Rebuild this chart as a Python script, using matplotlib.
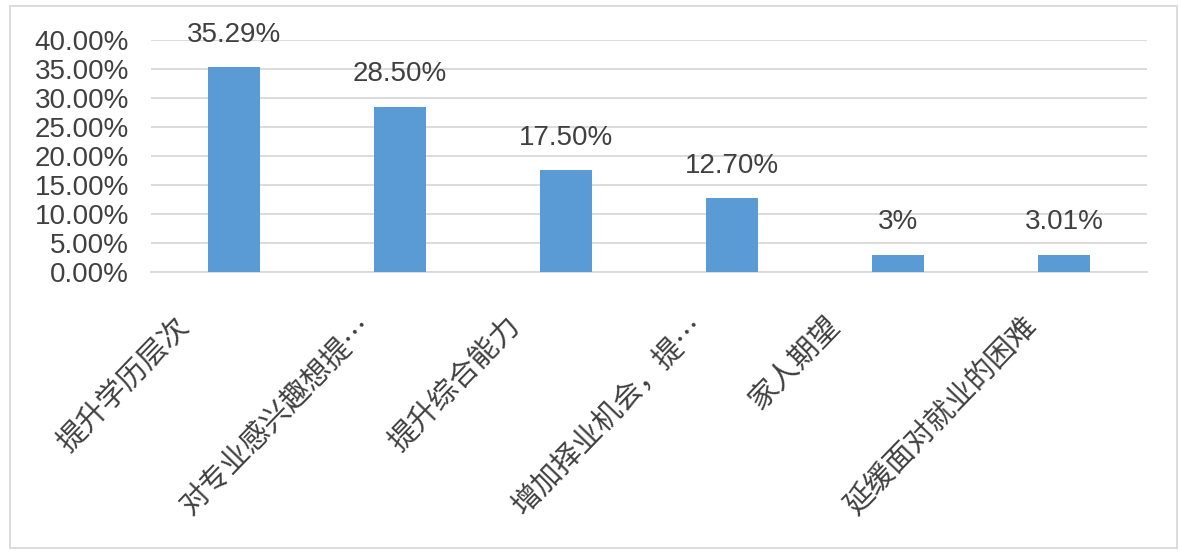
import matplotlib
matplotlib.use("Agg")
import matplotlib.pyplot as plt
from matplotlib import font_manager
from matplotlib.patches import Rectangle
from matplotlib.ticker import FuncFormatter
import matplotlib.transforms as mtransforms

categories = ["提升学历层次", "对专业感兴趣想提…", "提升综合能力",
              "增加择业机会，提…", "家人期望", "延缓面对就业的困难"]
values = [35.29, 28.50, 17.50, 12.70, 3.00, 3.01]
value_labels = ["35.29%", "28.50%", "17.50%", "12.70%", "3%", "3.01%"]
y_ticks = [0, 5, 10, 15, 20, 25, 30, 35, 40]

TEXT = "#404040"
GRID = "#D9D9D9"
BAR = "#5B9BD5"

try:
    font_manager.findfont("Liberation Sans Narrow", fallback_to_default=False)
    num_family = ["Liberation Sans Narrow", "DejaVu Sans"]
    num_size = 24
except Exception:
    num_family = ["Liberation Sans", "DejaVu Sans"]
    num_size = 20

cjk_family = ["Noto Sans CJK SC", "DejaVu Sans"]

W, H = 1179, 553
fig = plt.figure(figsize=(W / 100, H / 100), dpi=100)
fig.patch.set_facecolor("white")

# outer chart border
fig.add_artist(Rectangle((10 / W, 1 - 548 / H), (1177 - 10) / W, (548 - 6) / H,
                         transform=fig.transFigure, fill=False,
                         edgecolor=GRID, linewidth=1.3))

ax = fig.add_axes([151 / W, 1 - 272 / H, 996 / W, 232 / H])
x = list(range(len(categories)))
ax.bar(x, values, width=0.31, color=BAR, zorder=3)
ax.set_xlim(-0.5, len(categories) - 0.5)
ax.set_ylim(0, 40)
ax.set_yticks(y_ticks)
ax.yaxis.set_major_formatter(FuncFormatter(lambda v, p: f"{v:.2f}%"))
ax.grid(axis="y", color=GRID, linewidth=1.3, zorder=0)
ax.set_axisbelow(True)
for s in ["top", "right", "left"]:
    ax.spines[s].set_visible(False)
ax.spines["bottom"].set_color(GRID)
ax.spines["bottom"].set_linewidth(1.3)
ax.tick_params(axis="y", length=0, pad=16, labelcolor=TEXT)
ax.tick_params(axis="x", length=0)
for lab in ax.get_yticklabels():
    lab.set_fontfamily(num_family)
    lab.set_fontsize(num_size)
ax.set_xticks(x)
ax.set_xticklabels([])

# data labels
for xi, v, t in zip(x, values, value_labels):
    ax.annotate(t, (xi, v), xytext=(0, 14), textcoords="offset points",
                ha="center", va="bottom", color=TEXT,
                fontfamily=num_family, fontsize=num_size, annotation_clip=False)

# rotated category labels
for xi, c in zip(x, categories):
    dx = -36 + (-50 + 6 * len(c))
    off = mtransforms.offset_copy(ax.get_xaxis_transform(), fig=fig,
                                  x=dx, y=-50, units="dots")
    ax.text(xi, 0, c, transform=off, rotation=46, rotation_mode="anchor",
            ha="right", va="center", color=TEXT,
            fontfamily=cjk_family, fontsize=21)

fig.savefig("out.png", dpi=100, facecolor="white")
